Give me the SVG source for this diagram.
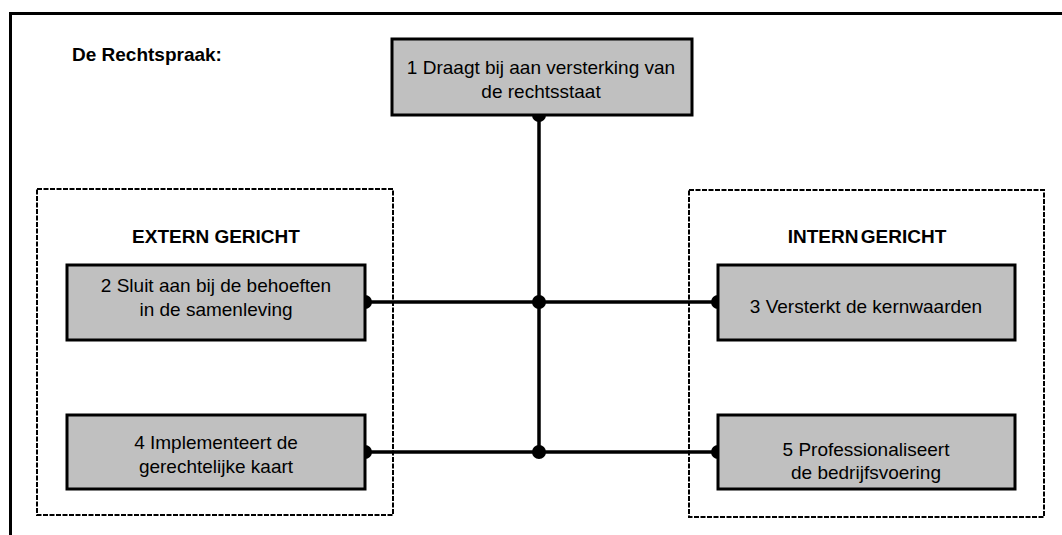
<svg xmlns="http://www.w3.org/2000/svg" width="1062" height="535" viewBox="0 0 1062 535">
<style>
.frame{fill:none;stroke:#000;stroke-width:3}
.group{fill:none;stroke:#000;stroke-width:2;stroke-dasharray:5 1.5}
.box{fill:#c0c0c0;stroke:#000;stroke-width:3}
.t{font-family:"Liberation Sans",Arial,sans-serif;font-size:19px;fill:#000;text-anchor:middle}
.b{font-weight:bold}
.conn{fill:none;stroke:#000;stroke-width:3.5}
.dot{fill:#000}
</style>
<rect width="1062" height="535" fill="#fff"/>
<path class="frame" d="M10.5 535 V13.5 H1062"/>
<text class="t b" x="72" y="61" style="text-anchor:start">De Rechtspraak:</text>
<g id="extern">
<rect class="group" x="37" y="189" width="356" height="326"/>
<text class="t b" x="216" y="243">EXTERN GERICHT</text>
</g>
<g id="intern">
<rect class="group" x="689" y="190" width="355" height="327"/>
<text class="t b" x="867" y="243" style="word-spacing:-3px">INTERN GERICHT</text>
</g>
<g id="connectors">
<path class="conn" d="M539 115 V452"/>
<path class="conn" d="M365 302 H718"/>
<path class="conn" d="M365 452 H718"/>
<circle class="dot" cx="539" cy="115" r="7"/>
<circle class="dot" cx="365" cy="302" r="7"/>
<circle class="dot" cx="539" cy="302" r="7"/>
<circle class="dot" cx="718" cy="302" r="7"/>
<circle class="dot" cx="365" cy="452" r="7"/>
<circle class="dot" cx="539" cy="452" r="7"/>
<circle class="dot" cx="718" cy="452" r="7"/>
</g>
<g id="n1">
<rect class="box" x="392" y="39" width="300" height="76"/>
<text class="t" x="541" y="74">1 Draagt bij aan versterking van</text>
<text class="t" x="541" y="98">de rechtsstaat</text>
</g>
<g id="n2">
<rect class="box" x="67" y="265" width="298" height="75"/>
<text class="t" x="216" y="292">2 Sluit aan bij de behoeften</text>
<text class="t" x="216" y="316">in de samenleving</text>
</g>
<g id="n3">
<rect class="box" x="718" y="265" width="297" height="75"/>
<text class="t" x="866" y="313">3 Versterkt de kernwaarden</text>
</g>
<g id="n4">
<rect class="box" x="67" y="415" width="298" height="74"/>
<text class="t" x="216" y="449">4 Implementeert de</text>
<text class="t" x="216" y="473">gerechtelijke kaart</text>
</g>
<g id="n5">
<rect class="box" x="718" y="415" width="297" height="74"/>
<text class="t" x="866" y="456">5 Professionaliseert</text>
<text class="t" x="866" y="479">de bedrijfsvoering</text>
</g>
</svg>
